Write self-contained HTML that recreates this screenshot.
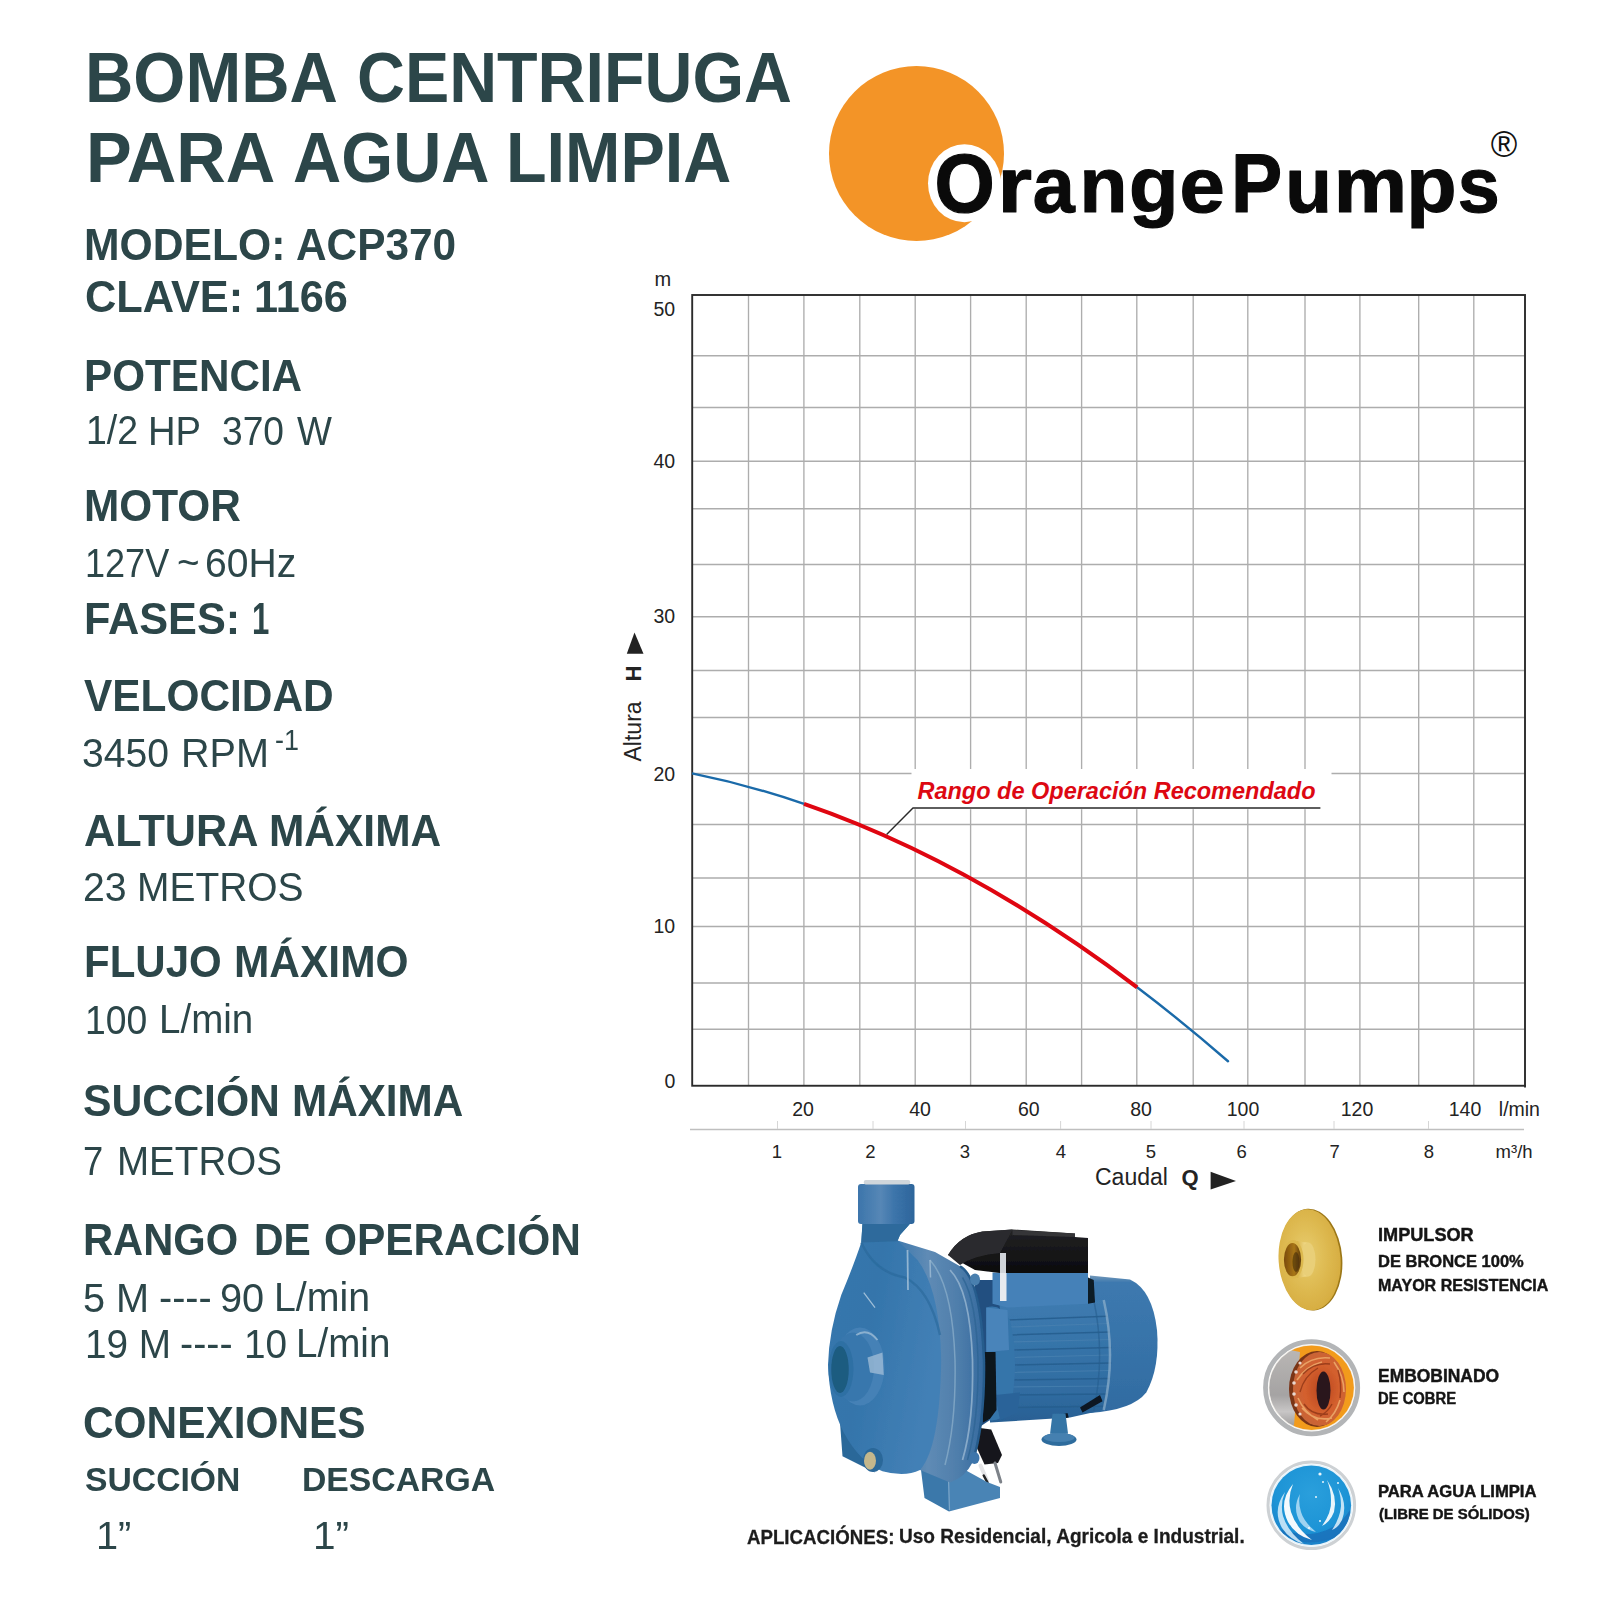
<!DOCTYPE html>
<html><head><meta charset="utf-8"><title>Bomba Centrifuga ACP370</title>
<style>
html,body{margin:0;padding:0;background:#fff;}
body{width:1600px;height:1600px;position:relative;overflow:hidden;font-family:"Liberation Sans",sans-serif;}
.t{position:absolute;white-space:nowrap;line-height:1em;color:#2c4649;transform-origin:0 50%;}
svg{position:absolute;left:0;top:0;}
</style></head><body>

<div class="t" id="L0" style="left:85.35px;top:44.38px;font-size:69.6px;font-weight:bold;transform:scaleX(0.9620);">BOMBA</div>
<div class="t" id="L1" style="left:357.12px;top:44.38px;font-size:69.6px;font-weight:bold;transform:scaleX(0.9533);">CENTRIFUGA</div>
<div class="t" id="L2" style="left:86.25px;top:124.38px;font-size:69.6px;font-weight:bold;transform:scaleX(0.9850);">PARA</div>
<div class="t" id="L3" style="left:292.66px;top:124.38px;font-size:69.6px;font-weight:bold;transform:scaleX(0.9592);">AGUA</div>
<div class="t" id="L4" style="left:505.82px;top:124.38px;font-size:69.6px;font-weight:bold;transform:scaleX(0.9546);">LIMPIA</div>
<div class="t" id="L5" style="left:84.07px;top:223.59px;font-size:43.6px;font-weight:bold;transform:scaleX(0.9787);">MODELO:</div>
<div class="t" id="L6" style="left:296.03px;top:223.59px;font-size:43.6px;font-weight:bold;transform:scaleX(0.9721);">ACP370</div>
<div class="t" id="L7" style="left:85.01px;top:275.59px;font-size:43.6px;font-weight:bold;transform:scaleX(0.9951);">CLAVE:</div>
<div class="t" id="L8" style="left:254.01px;top:275.59px;font-size:43.6px;font-weight:bold;transform:scaleX(0.9917);">1166</div>
<div class="t" id="L9" style="left:84.10px;top:354.59px;font-size:43.6px;font-weight:bold;transform:scaleX(0.9683);">POTENCIA</div>
<div class="t" id="L10" style="left:86.22px;top:411.47px;font-size:40.2px;transform:scaleX(0.9315);">1/2</div>
<div class="t" id="L11" style="left:148.19px;top:412.47px;font-size:40.2px;transform:scaleX(0.9501);">HP</div>
<div class="t" id="L12" style="left:222.17px;top:412.47px;font-size:40.2px;transform:scaleX(0.9246);">370</div>
<div class="t" id="L13" style="left:297.03px;top:412.47px;font-size:40.2px;transform:scaleX(0.9196);">W</div>
<div class="t" id="L14" style="left:84.09px;top:484.59px;font-size:43.6px;font-weight:bold;transform:scaleX(0.9713);">MOTOR</div>
<div class="t" id="L15" style="left:85.34px;top:544.47px;font-size:40.2px;transform:scaleX(0.8973);">127V</div>
<div class="t" id="L16" style="left:177.08px;top:542.97px;font-size:40.2px;transform:scaleX(0.9610);">~</div>
<div class="t" id="L17" style="left:205.06px;top:544.47px;font-size:40.2px;transform:scaleX(0.9719);">60Hz</div>
<div class="t" id="L18" style="left:84.02px;top:597.59px;font-size:43.6px;font-weight:bold;transform:scaleX(0.9917);">FASES:</div>
<div class="t" id="L19" style="left:251.96px;top:597.59px;font-size:43.6px;font-weight:bold;transform:scaleX(0.7142);">1</div>
<div class="t" id="L20" style="left:84.03px;top:674.59px;font-size:43.6px;font-weight:bold;transform:scaleX(0.9724);">VELOCIDAD</div>
<div class="t" id="L21" style="left:82.04px;top:734.47px;font-size:40.2px;transform:scaleX(0.9738);">3450</div>
<div class="t" id="L22" style="left:181.05px;top:734.47px;font-size:40.2px;transform:scaleX(0.9849);">RPM</div>
<div class="t" id="L23" style="left:275.10px;top:725.11px;font-size:30px;transform:scaleX(0.8962);">-1</div>
<div class="t" id="L24" style="left:84.01px;top:809.59px;font-size:43.6px;font-weight:bold;transform:scaleX(0.9914);">ALTURA</div>
<div class="t" id="L25" style="left:269.09px;top:809.59px;font-size:43.6px;font-weight:bold;transform:scaleX(0.9738);">MÁXIMA</div>
<div class="t" id="L26" style="left:83.05px;top:868.47px;font-size:40.2px;transform:scaleX(0.9756);">23</div>
<div class="t" id="L27" style="left:137.10px;top:868.47px;font-size:40.2px;transform:scaleX(0.9686);">METROS</div>
<div class="t" id="L28" style="left:84.11px;top:940.59px;font-size:43.6px;font-weight:bold;transform:scaleX(0.9638);">FLUJO</div>
<div class="t" id="L29" style="left:234.09px;top:940.59px;font-size:43.6px;font-weight:bold;transform:scaleX(0.9741);">MÁXIMO</div>
<div class="t" id="L30" style="left:85.24px;top:1001.47px;font-size:40.2px;transform:scaleX(0.9275);">100</div>
<div class="t" id="L31" style="left:159.14px;top:1000.47px;font-size:40.2px;transform:scaleX(0.9593);">L/min</div>
<div class="t" id="L32" style="left:83.03px;top:1079.59px;font-size:43.6px;font-weight:bold;transform:scaleX(0.9797);">SUCCIÓN</div>
<div class="t" id="L33" style="left:291.71px;top:1079.59px;font-size:43.6px;font-weight:bold;transform:scaleX(0.9683);">MÁXIMA</div>
<div class="t" id="L34" style="left:83.23px;top:1142.47px;font-size:40.2px;transform:scaleX(0.9044);">7</div>
<div class="t" id="L35" style="left:117.12px;top:1142.47px;font-size:40.2px;transform:scaleX(0.9593);">METROS</div>
<div class="t" id="L36" style="left:83.12px;top:1218.59px;font-size:43.6px;font-weight:bold;transform:scaleX(0.9558);">RANGO</div>
<div class="t" id="L37" style="left:253.79px;top:1218.59px;font-size:43.6px;font-weight:bold;transform:scaleX(0.9376);">DE</div>
<div class="t" id="L38" style="left:324.05px;top:1218.59px;font-size:43.6px;font-weight:bold;transform:scaleX(0.9732);">OPERACIÓN</div>
<div class="t" id="L39" style="left:83.03px;top:1279.47px;font-size:40.2px;transform:scaleX(0.9877);">5 M</div>
<div class="t" id="L40" style="left:159.01px;top:1277.97px;font-size:40.2px;transform:scaleX(0.9851);">----</div>
<div class="t" id="L41" style="left:220.02px;top:1279.47px;font-size:40.2px;transform:scaleX(0.9879);">90</div>
<div class="t" id="L42" style="left:274.08px;top:1277.97px;font-size:40.2px;transform:scaleX(0.9783);">L/min</div>
<div class="t" id="L43" style="left:85.11px;top:1325.47px;font-size:40.2px;transform:scaleX(0.9639);">19 M</div>
<div class="t" id="L44" style="left:179.63px;top:1323.97px;font-size:40.2px;transform:scaleX(0.9821);">----</div>
<div class="t" id="L45" style="left:243.74px;top:1325.47px;font-size:40.2px;transform:scaleX(0.9642);">10</div>
<div class="t" id="L46" style="left:295.73px;top:1323.97px;font-size:40.2px;transform:scaleX(0.9603);">L/min</div>
<div class="t" id="L47" style="left:83.04px;top:1402.39px;font-size:43.6px;font-weight:bold;transform:scaleX(0.9721);">CONEXIONES</div>
<div class="t" id="L48" style="left:84.94px;top:1463.82px;font-size:32.7px;font-weight:bold;transform:scaleX(1.0306);">SUCCIÓN</div>
<div class="t" id="L49" style="left:301.73px;top:1463.82px;font-size:32.7px;font-weight:bold;transform:scaleX(1.0320);">DESCARGA</div>
<div class="t" id="L50" style="left:96.43px;top:1517.33px;font-size:38px;transform:scaleX(1.0456);">1”</div>
<div class="t" id="L51" style="left:312.80px;top:1517.33px;font-size:38px;transform:scaleX(1.0677);">1”</div>
<div class="t" id="L52" style="left:747.03px;top:1527.59px;font-size:19.5px;font-weight:bold;color:#1c1c1c;-webkit-text-stroke:0.3px #1c1c1c;transform:scaleX(0.9583);">APLICACIÓNES:</div>
<div class="t" id="L53" style="left:899.23px;top:1527.39px;font-size:19.5px;font-weight:bold;color:#1c1c1c;-webkit-text-stroke:0.3px #1c1c1c;transform:scaleX(0.9775);">Uso Residencial, Agricola e Industrial.</div>
<div class="t" id="L54" style="left:1378.28px;top:1225.42px;font-size:19px;font-weight:bold;color:#151515;-webkit-text-stroke:0.45px #151515;transform:scaleX(0.9542);">IMPULSOR</div>
<div class="t" id="L55" style="left:1378.22px;top:1252.86px;font-size:17.3px;font-weight:bold;color:#151515;-webkit-text-stroke:0.45px #151515;transform:scaleX(0.9546);">DE BRONCE 100%</div>
<div class="t" id="L56" style="left:1378.25px;top:1277.46px;font-size:17.3px;font-weight:bold;color:#151515;-webkit-text-stroke:0.45px #151515;transform:scaleX(0.9275);">MAYOR RESISTENCIA</div>
<div class="t" id="L57" style="left:1378.21px;top:1367.46px;font-size:18px;font-weight:bold;color:#151515;-webkit-text-stroke:0.45px #151515;transform:scaleX(0.9686);">EMBOBINADO</div>
<div class="t" id="L58" style="left:1378.25px;top:1391.36px;font-size:16px;font-weight:bold;color:#151515;-webkit-text-stroke:0.45px #151515;transform:scaleX(0.9241);">DE COBRE</div>
<div class="t" id="L59" style="left:1378.19px;top:1482.53px;font-size:16.5px;font-weight:bold;color:#151515;-webkit-text-stroke:0.45px #151515;transform:scaleX(1.0071);">PARA AGUA LIMPIA</div>
<div class="t" id="L60" style="left:1379.21px;top:1506.48px;font-size:15.5px;font-weight:bold;color:#151515;-webkit-text-stroke:0.45px #151515;transform:scaleX(0.9621);">(LIBRE DE SÓLIDOS)</div>
<svg width="1600" height="1600" viewBox="0 0 1600 1600" font-family="Liberation Sans, sans-serif">
<g stroke="#adadad" stroke-width="1.35" fill="none">
<path d="M748.5 295V1085.5M803.9 295V1085.5M859.8 295V1085.5M915.2 295V1085.5M970.6 295V1085.5M1026.2 295V1085.5M1081.6 295V1085.5M1136.8 295V1085.5M1193.2 295V1085.5M1247.8 295V1085.5M1305 295V1085.5M1359.9 295V1085.5M1418.7 295V1085.5M1473.8 295V1085.5"/>
<path d="M692.5 355.75H1524.5M692.5 407.5H1524.5M692.5 461.25H1524.5M692.5 508.75H1524.5M692.5 564.5H1524.5M692.5 616.75H1524.5M692.5 670.5H1524.5M692.5 717.5H1524.5M692.5 773.5H1524.5M692.5 824.5H1524.5M692.5 878H1524.5M692.5 926.5H1524.5M692.5 983H1524.5M692.5 1029.25H1524.5"/>
</g>
<rect x="911.5" y="769" width="420" height="40.2" fill="#fff"/>
<rect x="692.2" y="295" width="832.8" height="790.75" fill="none" stroke="#2b2b2b" stroke-width="1.9"/>
<path d="M1525 1085V1087.6" stroke="#2b2b2b" stroke-width="1.9"/>
<path d="M690 1129.5H1524" stroke="#bfbfbf" stroke-width="1.5" fill="none"/>
<path d="M777.5 1121V1129M873 1121V1129M965.5 1121V1129M1060.6 1121V1129M1151 1121V1129M1244 1121V1129M1334 1121V1129M1428.5 1121V1129" stroke="#d6d6d6" stroke-width="1" fill="none"/>
<path d="M692.0 773.40Q748.0 784.65 804.0 803.89" fill="none" stroke="#1a6aa9" stroke-width="2.4"/>
<path d="M1137.1 987.28Q1182.5 1021.70 1228.0 1061.26" fill="none" stroke="#1a6aa9" stroke-width="2.4" stroke-linecap="round"/>
<path d="M804.0 803.89Q970.5 861.13 1137.1 987.28" fill="none" stroke="#df0611" stroke-width="4.1"/>
<path d="M886.6 834.5L913 808H1320.4" fill="none" stroke="#2a2a2a" stroke-width="1.4"/>
<text x="917.5" y="798.5" font-size="24" font-weight="bold" font-style="italic" fill="#dd0812" textLength="398" lengthAdjust="spacingAndGlyphs">Rango de Operación Recomendado</text>
<g font-size="19.5" fill="#232323">
<text x="654.5" y="286" font-size="20">m</text>
<text x="653.5" y="316">50</text>
<text x="653.5" y="467.5">40</text>
<text x="653.5" y="622.5">30</text>
<text x="653.5" y="780.5">20</text>
<text x="653.5" y="932.5">10</text>
<text x="664.5" y="1087.5">0</text>
<g text-anchor="middle">
<text x="803" y="1116.25">20</text>
<text x="920" y="1116.25">40</text>
<text x="1028.75" y="1116.25">60</text>
<text x="1141" y="1116.25">80</text>
<text x="1243" y="1116.25">100</text>
<text x="1357" y="1116.25">120</text>
<text x="1465" y="1116.25">140</text>
</g>
<text x="1498.8" y="1116.25">l/min</text>
<g text-anchor="middle" font-size="18.5">
<text x="777" y="1157.5">1</text>
<text x="870.5" y="1157.5">2</text>
<text x="965" y="1157.5">3</text>
<text x="1061" y="1157.5">4</text>
<text x="1151" y="1157.5">5</text>
<text x="1241.75" y="1157.5">6</text>
<text x="1334.7" y="1157.5">7</text>
<text x="1429" y="1157.5">8</text>
</g>
<text x="1495.6" y="1157.5" font-size="18.5">m³/h</text>
<text x="1095" y="1184.5" font-size="23">Caudal</text>
<text x="1181.5" y="1184.5" font-size="22" font-weight="bold">Q</text>
<path d="M1210.6 1171.7L1236 1181L1210.6 1189.4Z" fill="#222"/>
<g transform="translate(641.3 761.5) rotate(-90)">
<text x="0" y="0" font-size="23">Altura</text>
<text x="80" y="0" font-size="22" font-weight="bold">H</text>
<path d="M107.7 -14.5L129 -6.8L107.7 2.2Z" fill="#222"/>
</g>
</g>
</svg>

<svg width="1600" height="1600" viewBox="0 0 1600 1600" font-family="Liberation Sans, sans-serif">
<circle cx="916.5" cy="153.5" r="87.5" fill="#f39427"/>
<ellipse cx="964.5" cy="183.3" rx="36.5" ry="39" fill="#fff"/>
<g font-size="82" font-weight="bold" fill="#0a0a0a" stroke="#0a0a0a" stroke-width="1.2" stroke-linejoin="round">
<text transform="translate(964.50 212.3) scale(0.945 1.01)" x="-31.85" y="0">O</text>
<text transform="translate(1017.00 212.3) scale(1.080 0.955)" x="-18.04" y="0">r</text>
<text transform="translate(1055.00 212.3) scale(0.920 0.955)" x="-24.26" y="0">a</text>
<text transform="translate(1103.50 212.3) scale(0.956 0.955)" x="-25.20" y="0">n</text>
<text transform="translate(1152.70 212.3) scale(0.990 0.955)" x="-23.98" y="0">g</text>
<text transform="translate(1202.25 212.3) scale(0.993 0.955)" x="-23.00" y="0">e</text>
<text transform="translate(1257.75 212.3) scale(0.935 1.01)" x="-28.69" y="0">P</text>
<text transform="translate(1308.50 212.3) scale(0.931 0.955)" x="-24.88" y="0">u</text>
<text transform="translate(1370.60 212.3) scale(1.006 0.955)" x="-36.62" y="0">m</text>
<text transform="translate(1432.40 212.3) scale(1.005 0.955)" x="-26.07" y="0">p</text>
<text transform="translate(1478.50 212.3) scale(0.920 0.955)" x="-22.56" y="0">s</text>
</g>
<text x="1504" y="156.5" font-size="36" fill="#111" text-anchor="middle">®</text>
</svg>

<svg width="1600" height="1600" viewBox="0 0 1600 1600">
<defs>
<linearGradient id="gCollar" x1="0" x2="1" y1="0" y2="0">
<stop offset="0" stop-color="#3c75ab"/><stop offset="0.4" stop-color="#5687b6"/><stop offset="0.65" stop-color="#3c74aa"/><stop offset="1" stop-color="#2d659b"/>
</linearGradient>
<linearGradient id="gFace" x1="0" x2="1" y1="0" y2="0.4">
<stop offset="0" stop-color="#3877ad"/><stop offset="0.45" stop-color="#3475ab"/><stop offset="1" stop-color="#4380b6"/>
</linearGradient>
<linearGradient id="gRim" x1="0" x2="1" y1="0" y2="0">
<stop offset="0" stop-color="#4079ad"/><stop offset="0.35" stop-color="#5f8bb5"/><stop offset="0.7" stop-color="#4f7eab"/><stop offset="1" stop-color="#356a9f"/>
</linearGradient>
<linearGradient id="gMotor" x1="0" x2="0" y1="0" y2="1">
<stop offset="0" stop-color="#3f7bb0"/><stop offset="0.3" stop-color="#3775aa"/><stop offset="0.75" stop-color="#306ca1"/><stop offset="1" stop-color="#285f93"/>
</linearGradient>
<linearGradient id="gFan" x1="0" x2="0" y1="0" y2="1">
<stop offset="0" stop-color="#7599ba"/><stop offset="0.05" stop-color="#3d79af"/><stop offset="0.5" stop-color="#3773a9"/><stop offset="1" stop-color="#316ba1"/>
</linearGradient>
<linearGradient id="gBox" x1="0" x2="0" y1="0" y2="1">
<stop offset="0" stop-color="#232325"/><stop offset="1" stop-color="#0b0b0d"/>
</linearGradient>
<filter id="soft" x="-5%" y="-5%" width="110%" height="110%"><feGaussianBlur stdDeviation="2.4"/></filter>
</defs>
<g transform="translate(800 1160) scale(0.25)" filter="url(#soft)">
<!-- fan cover -->
<path d="M1160 462 L1320 478 Q1410 520 1428 680 Q1440 830 1385 930 Q1330 1000 1160 1012 Z" fill="url(#gFan)"/>
<!-- motor body -->
<path d="M760 575 L1215 560 Q1260 780 1215 1000 L1080 1030 L760 1050 Z" fill="url(#gMotor)"/>
<g stroke="#265d8d" stroke-width="6" fill="none" opacity="0.85">
<path d="M830 640L1230 625M835 700L1240 688M840 760L1245 750M840 820L1245 812M840 880L1240 874M838 940L1232 936M830 990L1215 985"/>
</g>
<g stroke="#4a82b0" stroke-width="5" fill="none" opacity="0.7">
<path d="M832 668L1232 654M838 728L1242 718M840 790L1245 780M840 850L1242 842M838 908L1236 904"/>
</g>
<path d="M1215 560 Q1265 780 1215 1000" stroke="#8fb0cc" stroke-width="10" fill="none" opacity="0.7"/>
<path d="M1175 560 Q1222 780 1175 1003" stroke="#265d8d" stroke-width="6" fill="none" opacity="0.6"/>
<!-- dark slots at motor bottom -->
<path d="M1120 990 L1200 940 L1210 965 L1130 1010 Z" fill="#0c1622"/>
<path d="M1040 1020 L1070 1012 L1075 1030 L1045 1036 Z" fill="#0c1622"/>
<!-- dark gap between pump and motor -->
<path d="M700 480 L790 480 L800 600 L760 1040 L700 1080 Z" fill="#204f80"/>
<!-- motor front bracket -->
<path d="M745 590 Q800 570 840 640 Q880 820 840 1000 Q800 1050 750 1040 Z" fill="#3674aa"/>
<path d="M780 940 L880 930 L870 1010 L800 1040 Z" fill="#2a6499"/>
<path d="M732 768 L782 768 L786 1000 L760 1035 L732 1050 Z" fill="#0b121c"/>
<path d="M745 590 L830 600 L836 760 L745 768 Z" fill="#4a84ba"/>
<!-- terminal box base -->
<path d="M770 450 L1152 450 L1152 575 L830 590 L770 575 Z" fill="#4581b8"/>
<path d="M1152 470 L1175 480 L1180 570 L1152 575 Z" fill="#0f1a28"/>
<rect x="800" y="452" width="26" height="112" fill="#e6eaef"/>
<!-- terminal box black -->
<path d="M592 380 Q640 300 730 286 L850 278 L1100 294 L1100 308 L1152 312 L1152 452 L800 452 L700 440 Z" fill="url(#gBox)"/>
<path d="M850 280 L1100 294 L1100 308 L850 300 Z" fill="#353538"/>
<path d="M592 380 Q640 300 730 286 L850 278 L800 372 Q700 380 640 420 Z" fill="#2c2c2f"/>
<rect x="800" y="372" width="24" height="80" fill="#cfd3d8"/>
<!-- motor foot -->
<path d="M1010 1015 L1062 1015 L1072 1095 L1000 1095 Z" fill="#3675a6"/>
<ellipse cx="1036" cy="1118" rx="70" ry="26" fill="#2f6c9d"/>
<ellipse cx="1036" cy="1110" rx="62" ry="18" fill="#4480b0"/>
<!-- plug -->
<path d="M705 1070 L765 1078 L808 1180 L792 1212 L738 1218 L700 1135 Z" fill="#19191b"/>
<path d="M780 1212 L803 1288" stroke="#7d8289" stroke-width="12" stroke-linecap="round"/>
<path d="M722 1222 L748 1282" stroke="#e3e3e5" stroke-width="16" stroke-linecap="round"/>
<path d="M735 1262 L750 1290" stroke="#222" stroke-width="10" stroke-linecap="round"/>
<!-- pump feet -->
<path d="M160 1050 L250 1180 L300 1250 L170 1185 Z" fill="#2b6799"/>
<path d="M484 1240 L498 1352 L596 1406 L600 1240 Z" fill="#3b78aa"/>
<path d="M590 1200 L668 1244 L748 1288 L800 1308 L800 1352 L596 1406 Z" fill="#4a84b5"/>
<path d="M592 1210 L598 1400" stroke="#8fb3d0" stroke-width="5" opacity="0.7"/>
<!-- rim / flange -->
<path d="M390 322 L540 368 L640 425 Q720 470 735 800 Q740 1050 690 1210 Q660 1270 600 1290 L480 1240 Z" fill="url(#gRim)"/>
<path d="M640 425 Q722 470 736 800 Q740 1050 690 1210" stroke="#255b8c" stroke-width="10" fill="none"/>
<path d="M600 440 Q680 520 690 800 Q695 1050 650 1200" stroke="#9dbbd4" stroke-width="7" fill="none" opacity="0.75"/>
<path d="M520 400 Q610 500 620 800 Q625 1050 580 1220" stroke="#8db0cc" stroke-width="6" fill="none" opacity="0.7"/>
<path d="M650 470 Q705 560 712 800 Q715 1040 670 1200" stroke="#2b6292" stroke-width="6" fill="none" opacity="0.7"/>
<ellipse cx="700" cy="478" rx="20" ry="24" fill="#4a7fae"/>
<ellipse cx="698" cy="1192" rx="20" ry="24" fill="#3c75ab"/>
<!-- volute front face + neck -->
<path d="M250 250 L245 330 Q215 420 165 540 Q116 680 112 820 Q118 980 175 1090 Q240 1210 330 1245 Q420 1270 480 1240 Q560 1150 565 800 Q560 520 470 400 L390 322 L400 300 L440 255 Z" fill="url(#gFace)"/>
<path d="M245 330 Q300 450 420 470 Q520 520 560 700" stroke="#28689a" stroke-width="10" fill="none" opacity="0.6"/>
<path d="M430 360 L432 520" stroke="#a9c4da" stroke-width="7" opacity="0.8"/>
<path d="M520 400 L522 470" stroke="#a9c4da" stroke-width="6" opacity="0.7"/>
<path d="M255 530 L300 590" stroke="#bcd2e4" stroke-width="5" opacity="0.8"/>
<!-- inlet boss -->
<ellipse cx="240" cy="826" rx="98" ry="156" fill="#4581b6"/>
<ellipse cx="212" cy="828" rx="84" ry="138" fill="#3877ad"/>
<ellipse cx="164" cy="836" rx="50" ry="112" fill="#2f70a4"/>
<ellipse cx="160" cy="838" rx="35" ry="94" fill="#1d5b80"/>
<path d="M270 790 L330 770 L335 860 L280 850 Z" fill="#a3bfd8" opacity="0.75"/>
<path d="M225 700 Q270 670 310 720" stroke="#a9c4da" stroke-width="8" fill="none" opacity="0.7"/>
<!-- brass plug -->
<ellipse cx="292" cy="1200" rx="40" ry="48" fill="#2b6799"/>
<ellipse cx="280" cy="1203" rx="24" ry="36" fill="#c4b78c"/>
<!-- outlet collar -->
<path d="M250 255 L440 255 L400 300 L390 325 L245 330 Z" fill="#2d6b9c"/>
<rect x="232" y="96" width="226" height="160" rx="12" fill="url(#gCollar)"/>
<rect x="255" y="80" width="186" height="18" rx="8" fill="#d0d6db"/>
</g>
</svg>

<svg width="1600" height="1600" viewBox="0 0 1600 1600">
<defs>
<radialGradient id="gGold" cx="0.45" cy="0.45" r="0.65">
<stop offset="0" stop-color="#e8cd70"/><stop offset="0.45" stop-color="#dfbc54"/><stop offset="0.85" stop-color="#d7ae42"/><stop offset="1" stop-color="#c59c2e"/>
</radialGradient>
<linearGradient id="gHub" x1="0" x2="1" y1="0" y2="0">
<stop offset="0" stop-color="#d9b44a"/><stop offset="0.6" stop-color="#f2dc8e"/><stop offset="1" stop-color="#dcb954"/>
</linearGradient>
<linearGradient id="gHole" x1="0" x2="1" y1="0" y2="0">
<stop offset="0" stop-color="#7a4a08"/><stop offset="0.6" stop-color="#a87618"/><stop offset="1" stop-color="#5e3a08"/>
</linearGradient>
<linearGradient id="gMetal" x1="0" x2="0" y1="0" y2="1">
<stop offset="0" stop-color="#b9b6b4"/><stop offset="0.55" stop-color="#a5a3a3"/><stop offset="0.75" stop-color="#c8c6c6"/><stop offset="1" stop-color="#8e8c8c"/>
</linearGradient>
<radialGradient id="gCopper" cx="0.55" cy="0.5" r="0.6">
<stop offset="0" stop-color="#b8441e"/><stop offset="0.55" stop-color="#d4602e"/><stop offset="1" stop-color="#c4673a"/>
</radialGradient>
<radialGradient id="gWater" cx="0.5" cy="0.35" r="0.75">
<stop offset="0" stop-color="#2a9fdc"/><stop offset="0.6" stop-color="#1d94d6"/><stop offset="1" stop-color="#1a78c2"/>
</radialGradient>
<clipPath id="cpSt"><circle cx="1311.6" cy="1387.7" r="42.3"/></clipPath>
<clipPath id="cpWa"><circle cx="1311.3" cy="1505.3" r="39.8"/></clipPath>
<filter id="soft2" x="-10%" y="-10%" width="120%" height="120%"><feGaussianBlur stdDeviation="0.6"/></filter>
<filter id="soft3" x="-10%" y="-10%" width="120%" height="120%"><feGaussianBlur stdDeviation="1.1"/></filter>
</defs>
<!-- impeller -->
<g filter="url(#soft2)">
<g transform="rotate(-4 1310 1259.7)">
<ellipse cx="1310.8" cy="1259.7" rx="31.5" ry="51" fill="#9c7718"/>
<ellipse cx="1309.6" cy="1259.7" rx="31" ry="50.6" fill="url(#gGold)"/>
</g>
<path d="M1297 1241 L1309 1243 Q1316 1259 1309 1276 L1297 1278 Z" fill="url(#gHub)"/>
<ellipse cx="1308" cy="1259.5" rx="7.5" ry="17" fill="#e9cf78"/>
<ellipse cx="1293" cy="1259.5" rx="10.5" ry="19.5" fill="#dcb84e"/>
<ellipse cx="1292.5" cy="1259.7" rx="8.6" ry="16.6" fill="url(#gHole)"/>
<ellipse cx="1296" cy="1262" rx="3.5" ry="10" fill="#3c2404" opacity="0.55"/>
</g>
<!-- stator -->
<circle cx="1311.6" cy="1387.7" r="46.1" fill="none" stroke="#b3b5b7" stroke-width="4.8"/>
<circle cx="1311.6" cy="1387.7" r="43.2" fill="#f3f0ea"/>
<g clip-path="url(#cpSt)" filter="url(#soft2)">
<rect x="1265" y="1340" width="95" height="95" fill="#f29b1d"/>
<path d="M1262 1362 L1290 1350 L1300 1352 L1294 1425 L1286 1432 L1262 1420 Z" fill="url(#gMetal)"/>
<ellipse cx="1317" cy="1389" rx="28" ry="38" fill="#7a3418"/>
<ellipse cx="1319.5" cy="1389" rx="26.5" ry="37" fill="url(#gCopper)"/>
<g stroke="#f0b070" stroke-width="1.6" fill="none" opacity="0.8">
<path d="M1300 1368 Q1312 1356 1330 1358M1297 1380 Q1306 1366 1322 1362M1298 1398 Q1304 1412 1318 1420M1302 1408 Q1314 1422 1332 1418M1334 1362 Q1344 1376 1344 1392M1340 1400 Q1336 1414 1326 1422"/>
</g>
<g stroke="#8a3214" stroke-width="1.4" fill="none" opacity="0.75">
<path d="M1303 1374 Q1314 1362 1330 1364M1300 1392 Q1304 1376 1318 1368M1304 1404 Q1312 1416 1328 1414M1338 1370 Q1342 1384 1340 1398M1332 1404 Q1328 1412 1320 1416"/>
</g>
<g fill="#e8d8d0"><circle cx="1296" cy="1372" r="1.8"/><circle cx="1294" cy="1383" r="1.8"/><circle cx="1294" cy="1394" r="1.8"/><circle cx="1296" cy="1405" r="1.8"/><circle cx="1300" cy="1363" r="1.6"/><circle cx="1300" cy="1414" r="1.6"/></g>
<ellipse cx="1323.5" cy="1390.5" rx="7" ry="19" fill="#2a161c"/>
</g>
<!-- water -->
<circle cx="1311.3" cy="1505.3" r="43.3" fill="none" stroke="#cdd1d4" stroke-width="3"/>
<circle cx="1311.3" cy="1505.3" r="41.4" fill="#e8f4fb"/>
<circle cx="1311.3" cy="1505.3" r="39.8" fill="url(#gWater)"/>
<g clip-path="url(#cpWa)" filter="url(#soft2)">
<path d="M1276 1528 Q1300 1552 1340 1536 Q1352 1526 1350 1510 Q1336 1532 1310 1534 Q1290 1534 1276 1528Z" fill="#1670ba" opacity="0.8"/>
<path d="M1293 1484 Q1278 1502 1288 1522 Q1296 1536 1312 1540 Q1296 1528 1291 1512 Q1287 1498 1293 1484Z" fill="#fff" opacity="0.95"/>
<path d="M1285 1492 Q1272 1510 1282 1528 Q1290 1540 1304 1544 Q1288 1532 1283 1516 Q1280 1504 1285 1492Z" fill="#d8eefb" opacity="0.85"/>
<path d="M1300 1494 Q1292 1508 1300 1522 Q1306 1530 1316 1532 Q1304 1522 1301 1512 Q1298 1502 1300 1494Z" fill="#bfe2f7" opacity="0.8"/>
<path d="M1327 1480 Q1338 1496 1334 1512 Q1330 1522 1322 1526 Q1332 1512 1331 1500 Q1331 1490 1327 1480Z" fill="#fff" opacity="0.9"/>
<path d="M1338 1488 Q1348 1504 1342 1520 Q1338 1528 1332 1530 Q1340 1518 1341 1506 Q1341 1496 1338 1488Z" fill="#e0f1fb" opacity="0.85"/>
<g fill="#fff" opacity="0.9"><circle cx="1320" cy="1474" r="1.6"/><circle cx="1323" cy="1482" r="1"/><circle cx="1316" cy="1497" r="1"/><circle cx="1309" cy="1528" r="1.1"/><circle cx="1320" cy="1521" r="1"/><circle cx="1338" cy="1483" r="1"/></g>
</g>
</svg>

</body></html>
